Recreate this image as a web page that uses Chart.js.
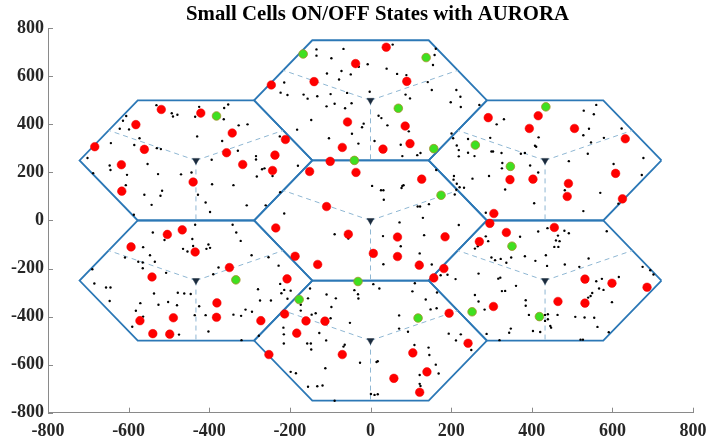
<!DOCTYPE html>
<html><head><meta charset="utf-8">
<script src="https://cdn.jsdelivr.net/npm/chart.js@4"></script>
<style>html,body{margin:0;padding:0;background:#fff;} #wrap{width:707px;height:444px;position:relative;}</style>
</head><body><div id="wrap"><canvas id="c" width="707" height="444"></canvas></div>
<script>
// ---------- data ----------
const chartTitle = 'Small Cells ON/OFF States with AURORA';
const axisTicks = [-800, -600, -400, -200, 0, 200, 400, 600, 800];
// macro base stations (cell centres)
const cellCenterX = [0, 0, 0, -433, 433, -433, 433];
const cellCenterY = [0, 500, -500, 250, 250, -250, -250];
const cellRadius = 288.7;          // centre-to-corner distance of each hexagonal cell
const sectorAngles = [30, 150, 270]; // sector boundaries (degrees)

// small cells switched OFF (red)
const offCells = [
  [39,721],[-37,653],[-140,578],[90,579],[-246,564],[-57,410],[86,393],[98,320],[-70,304],[31,297],[-100,246],
  [-36,200],[-151,204],[127,172],[-109,58],[-235,-31],[-55,-57],[67,-69],[185,-68],[7,-137],[67,-150],[-187,-149],[-131,-183],[121,-186],[182,-200],[157,-239],
  [-213,-389],[-160,-418],[-113,-419],[-183,-469],[-252,-558],[-70,-558],[105,-551],[195,-386],[242,-511],[140,-630],[58,-657],[122,-715],
  [-519,462],[-421,447],[-582,399],[-343,364],[-211,337],[-684,307],[-561,296],[-357,282],[-237,272],[-618,232],[-317,233],[-243,208],[-440,160],[-617,122],
  [292,428],[416,436],[394,383],[506,383],[632,340],[608,196],[346,170],[403,172],[491,154],[488,100],[625,90],[306,29],
  [-504,-58],[-467,-39],[-594,-110],[-435,-131],[-350,-196],[-542,-235],[-207,-243],[-381,-343],[-489,-405],[-572,-417],[-382,-403],[-272,-417],[-540,-471],[-498,-473],
  [270,-88],[337,-50],[456,-29],[296,-12],[532,-244],[599,-261],[686,-278],[465,-337],[532,-344],[305,-358]
];
// small cells switched ON (green)
const onCells = [
  [-167,693],[138,678],[69,467],[157,299],[-40,250],
  [175,105],[-31,-254],
  [-177,-329],[118,-406],
  [-382,435],
  [435,473],[260,314],[347,225],
  [-334,-247],
  [351,-107],[252,-380],[419,-400]
];
// users (black dots)
const users = [
  [55,732],[-134,712],[-67,714],[-134,686],[-97,675],[-29,640],[-7,650],[162,715],[159,689],[155,647],[40,632],[66,610],[89,605],[-108,612],[-72,622],[-49,608],[-78,587],[-214,574],[-223,532],[-206,522],[-166,524],[-156,507],[-132,517],[-99,526],[-58,531],[-2,536],[-109,475],[-89,486],[-63,467],[-47,488],[87,524],[98,508],[142,576],[152,543],[213,543],[223,515],[199,492],[224,472],[270,481],[-147,418],[-182,378],[-103,342],[-46,361],[-17,403],[-21,388],[20,436],[27,426],[42,396],[10,331],[-30,320],[75,315],[116,272],[124,281],[79,268],[95,371],
  [4,144],[26,126],[32,126],[77,135],[79,144],[82,147],[33,86],[123,58],[117,58],[145,68],[130,11],[72,-8],[219,-19],[-214,29],[-89,-57],[-55,-75],[31,-65],[133,-61],[75,-107],[122,-137],[32,-182],[152,-183],[-224,118],[163,210],
  [7,-265],[22,-283],[-40,-290],[-31,-307],[-30,-325],[110,-261],[104,-295],[165,-300],[137,-329],[149,-370],[164,-365],[-150,-283],[-155,-324],[-109,-308],[-86,-324],[-97,-360],[-173,-351],[-173,-375],[-146,-392],[-136,-386],[-99,-407],[-51,-426],[71,-395],[71,-450],[93,-463],[-216,-446],[-215,-474],[-215,-512],[-157,-512],[-148,-512],[-127,-468],[-110,-499],[-64,-517],[-67,-525],[-147,-537],[194,-471],[212,-499],[250,-539],[109,-518],[144,-529],[146,-560],[162,-600],[169,-637],[122,-643],[122,-680],[124,-689],[18,-586],[15,-589],[-26,-592],[-112,-615],[-198,-630],[-185,-636],[-155,-692],[-132,-690],[-119,-687],[-89,-750],[1,-722],[10,-726],[18,-723],[224,-474],
  [-531,480],[-493,446],[-490,433],[-479,440],[-425,473],[-435,432],[-353,483],[-363,468],[-364,421],[-327,396],[-305,400],[-606,435],[-614,415],[-622,382],[-599,379],[-644,322],[-573,342],[-586,314],[-530,301],[-520,297],[-430,350],[-368,331],[-329,290],[-394,253],[-284,268],[-284,254],[-225,350],[-702,260],[-647,229],[-645,210],[-553,235],[-604,190],[-527,193],[-470,192],[-444,200],[-269,213],[-263,217],[-282,183],[-243,185],[-607,147],[-517,124],[-521,103],[-561,107],[-543,65],[-428,107],[-393,151],[-340,147],[-409,75],[-398,35],[-307,63],[-260,63],[-688,197],[-587,24],[-180,228],
  [529,457],[560,481],[554,442],[331,421],[313,400],[542,382],[528,355],[579,344],[547,325],[623,383],[417,346],[408,311],[411,307],[297,344],[242,339],[201,362],[205,342],[214,312],[219,293],[219,267],[242,282],[258,268],[300,287],[304,287],[325,281],[373,278],[383,281],[327,239],[326,217],[396,229],[416,200],[207,185],[206,170],[253,174],[294,185],[214,153],[221,138],[213,128],[232,136],[209,108],[334,129],[406,72],[482,126],[492,247],[539,278],[603,235],[673,189],[677,260],[570,115],[528,39],[615,70],[286,32],
  [-435,-18],[-540,-50],[-511,-81],[-442,-77],[-440,-106],[-465,-118],[-454,-129],[-402,-100],[-398,-114],[-407,-118],[-342,-18],[-333,-50],[-322,-85],[-564,-111],[-547,-145],[-609,-154],[-576,-172],[-565,-175],[-565,-199],[-535,-172],[-507,-218],[-377,-196],[-390,-224],[-295,-145],[-253,-153],[-690,-203],[-685,-262],[-656,-279],[-645,-279],[-647,-335],[-537,-304],[-571,-344],[-526,-351],[-502,-339],[-478,-301],[-462,-304],[-446,-306],[-480,-353],[-582,-376],[-564,-400],[-591,-442],[-425,-357],[-436,-394],[-409,-394],[-402,-462],[-475,-475],[-340,-392],[-321,-397],[-310,-371],[-294,-380],[-279,-286],[-247,-333],[-277,-480],[-320,-498],[-228,-188],[-224,-264],[-214,-289],[-206,-326],[-198,-292],[-274,-333],[-221,-303],
  [439,-32],[451,-27],[416,-46],[481,-43],[492,-53],[465,-63],[460,-83],[469,-86],[456,-110],[466,-110],[371,-68],[586,-45],[286,-66],[292,-86],[259,-117],[266,-107],[300,-154],[309,-165],[323,-160],[337,-176],[349,-154],[383,-149],[409,-168],[435,-145],[438,-189],[482,-183],[518,-193],[541,-158],[268,-221],[211,-244],[191,-226],[174,-228],[317,-242],[322,-238],[361,-272],[326,-294],[334,-293],[259,-310],[268,-337],[385,-332],[385,-355],[393,-393],[433,-393],[440,-390],[440,-411],[433,-418],[446,-439],[448,-446],[464,-393],[403,-460],[421,-464],[348,-450],[344,-467],[288,-472],[320,-498],[508,-401],[531,-404],[555,-405],[563,-443],[591,-465],[521,-496],[527,-496],[540,-321],[546,-314],[550,-302],[567,-283],[578,-289],[574,-243],[560,-253],[537,-254],[616,-235],[599,-340],[675,-193],[694,-207],[702,-225],[283,-371]
];

// ---------- geometry built from the data ----------
const toXY = p => ({x: p[0], y: p[1]});
const hexOutlines = cellCenterX.map((cx, i) => {
  const cy = cellCenterY[i], pts = [];
  for (let k = 0; k <= 6; k++) { const a = k * Math.PI / 3; pts.push({x: cx + cellRadius * Math.cos(a), y: cy + cellRadius * Math.sin(a)}); }
  return pts;
});
const sectorLines = [];
cellCenterX.forEach((cx, i) => {
  const cy = cellCenterY[i], apothem = cellRadius * Math.cos(Math.PI / 6);
  sectorAngles.forEach(d => {
    const a = d * Math.PI / 180;
    sectorLines.push({x: cx, y: cy}, {x: cx + apothem * Math.cos(a), y: cy + apothem * Math.sin(a)}, {x: null, y: null});
  });
});
const baseStations = cellCenterX.map((x, i) => ({x, y: cellCenterY[i]}));

const serif = '"Liberation Serif", "Times New Roman", serif';
const inwardTicks = {
  id: 'inwardTicks',
  afterLayout(chart) {
    // shift the title slightly right, as in the reference
    const t = chart.titleBlock;
    if (t) { t.left += 14; }
  },
  afterDraw(chart) {
    const {ctx, chartArea: a, scales: {x, y}} = chart;
    ctx.save(); ctx.strokeStyle = '#8a8a8a'; ctx.lineWidth = 1; ctx.beginPath();
    x.ticks.forEach(t => { const p = Math.round(x.getPixelForValue(t.value)) + 0.5; ctx.moveTo(p, a.bottom); ctx.lineTo(p, a.bottom - 5); });
    y.ticks.forEach(t => { const p = Math.round(y.getPixelForValue(t.value)) + 0.5; ctx.moveTo(a.left, p); ctx.lineTo(a.left + 5, p); });
    ctx.stroke(); ctx.restore();
  }
};

const hexDatasets = hexOutlines.map(pts => ({
  type: 'line', data: pts, showLine: true, borderColor: '#2c78b6', borderWidth: 1.8,
  pointRadius: 0, fill: false, tension: 0
}));

new Chart(document.getElementById('c'), {
  type: 'scatter',
  data: { datasets: [
    { label: 'ON', data: onCells.map(toXY), pointRadius: 4.3, backgroundColor: '#3fe020', borderColor: '#a3912a', borderWidth: 0.8 },
    { label: 'OFF', data: offCells.map(toXY), pointRadius: 4.3, backgroundColor: '#ff0000', borderColor: '#f00000', borderWidth: 0.5 },
    { label: 'BS', data: baseStations, pointStyle: 'triangle', rotation: 180, pointRadius: 4, backgroundColor: '#1b2b3d', borderColor: '#1b2b3d', borderWidth: 0.5 },
    { label: 'Users', data: users.map(toXY), pointRadius: 1.2, backgroundColor: '#000', borderWidth: 0 },
    { type: 'line', label: 'Sectors', data: sectorLines, showLine: true, spanGaps: false, borderColor: '#8fb7d3', borderWidth: 1, borderDash: [5, 4], pointRadius: 0, fill: false },
    ...hexDatasets
  ]},
  options: {
    responsive: false, animation: false, events: [],
    layout: { padding: { left: 0, right: 14, top: 0, bottom: 0 } },
    plugins: {
      legend: { display: false }, tooltip: { enabled: false },
      title: { display: true, text: chartTitle, fullSize: false, color: '#000',
        font: { family: serif, size: 20.8, weight: 'bold' }, lineHeight: 1.2, padding: { top: 2, bottom: 1.3 } }
    },
    scales: {
      x: { type: 'linear', min: -800, max: 800,
        afterBuildTicks: s => { s.ticks = axisTicks.map(v => ({value: v})); },
        grid: { display: false, drawTicks: false }, border: { display: true, color: '#8a8a8a', width: 1 },
        ticks: { padding: 8, color: '#262626', autoSkip: false, maxRotation: 0, font: { family: serif, size: 18, weight: 'bold' } },
        afterFit: s => { s.height = 31.3; s.paddingLeft = 0; s.paddingRight = 0; } },
      y: { type: 'linear', min: -800, max: 800,
        afterBuildTicks: s => { s.ticks = axisTicks.map(v => ({value: v})); },
        grid: { display: false, drawTicks: false }, border: { display: true, color: '#8a8a8a', width: 1 },
        ticks: { padding: 4, color: '#262626', font: { family: serif, size: 18, weight: 'bold' } },
        afterFit: s => { s.width = 48; s.paddingTop = 0; s.paddingBottom = 0; } }
    }
  },
  plugins: [inwardTicks]
});
</script></body></html>
